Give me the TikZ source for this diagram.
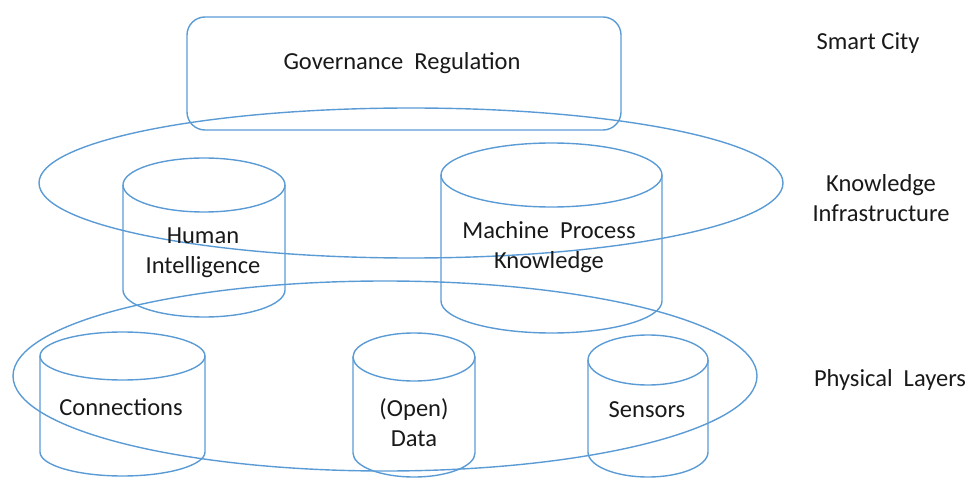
\documentclass[tikz,border=0pt]{standalone}
\usepackage{fontspec}
\setmainfont{Carlito}
\usetikzlibrary{shapes.geometric}
\definecolor{lb}{HTML}{5B9BD5}
\tikzset{
  outl/.style={draw=lb, line width=1.4pt},
  lbl/.style={font=\fontsize{24.5}{30}\selectfont, align=center, text=black!90, inner sep=0pt},
  bigell/.style={outl, ellipse, inner sep=0pt},
}
% cylinder: name, cx, top-centre y, bottom-centre y, rx, ry
\newcommand{\mycyl}[6]{%
  \draw[outl] (#2,#3) ellipse [x radius=#5pt, y radius=#6pt];
  \draw[outl] (#2-#5,#3) -- (#2-#5,#4) arc[start angle=180, end angle=360, x radius=#5pt, y radius=#6pt] -- (#2+#5,#3);
  \coordinate (#1) at (#2,{(#3+#4)/2});
}
\begin{document}
\begin{tikzpicture}[x=1pt,y=-1pt]
\useasboundingbox (0,0) rectangle (979,478);
% top box
\node[outl, rounded corners=18pt, minimum width=434pt, minimum height=113pt, inner sep=0pt] (govbox) at (404,73.5) {};
\node[lbl] (gov) at (402,63) {Governance\ \ Regulation};
% big ellipses
\node[bigell, minimum width=744pt, minimum height=150pt] (kinf) at (411,183) {};
\node[bigell, minimum width=744pt, minimum height=190pt] (phys) at (385,376) {};
% cylinders
\mycyl{human}{204}{185}{290}{81}{27}
\mycyl{mach}{551.5}{175}{301}{110.5}{32}
\mycyl{conn}{122.5}{356}{452}{82.5}{24}
\mycyl{data}{414}{357}{453}{61}{24}
\mycyl{sens}{648}{360}{452}{60}{25}
% labels
\node[lbl] (humanl) at (203,253) {Human\\Intelligence};
\node[lbl] (machl) at (549,247) {Machine\ \ Process\\Knowledge};
\node[lbl] (connl) at (121,407) {Connections};
\node[lbl] (datal) at (414,423) {(Open)\\Data};
\node[lbl] (sensl) at (647,410) {Sensors};
\node[lbl] (smart) at (868,43) {Smart City};
\node[lbl] (kil) at (881,198) {Knowledge\\Infrastructure};
\node[lbl] (pl) at (890,380) {Physical\ \ Layers};
\end{tikzpicture}
\end{document}
